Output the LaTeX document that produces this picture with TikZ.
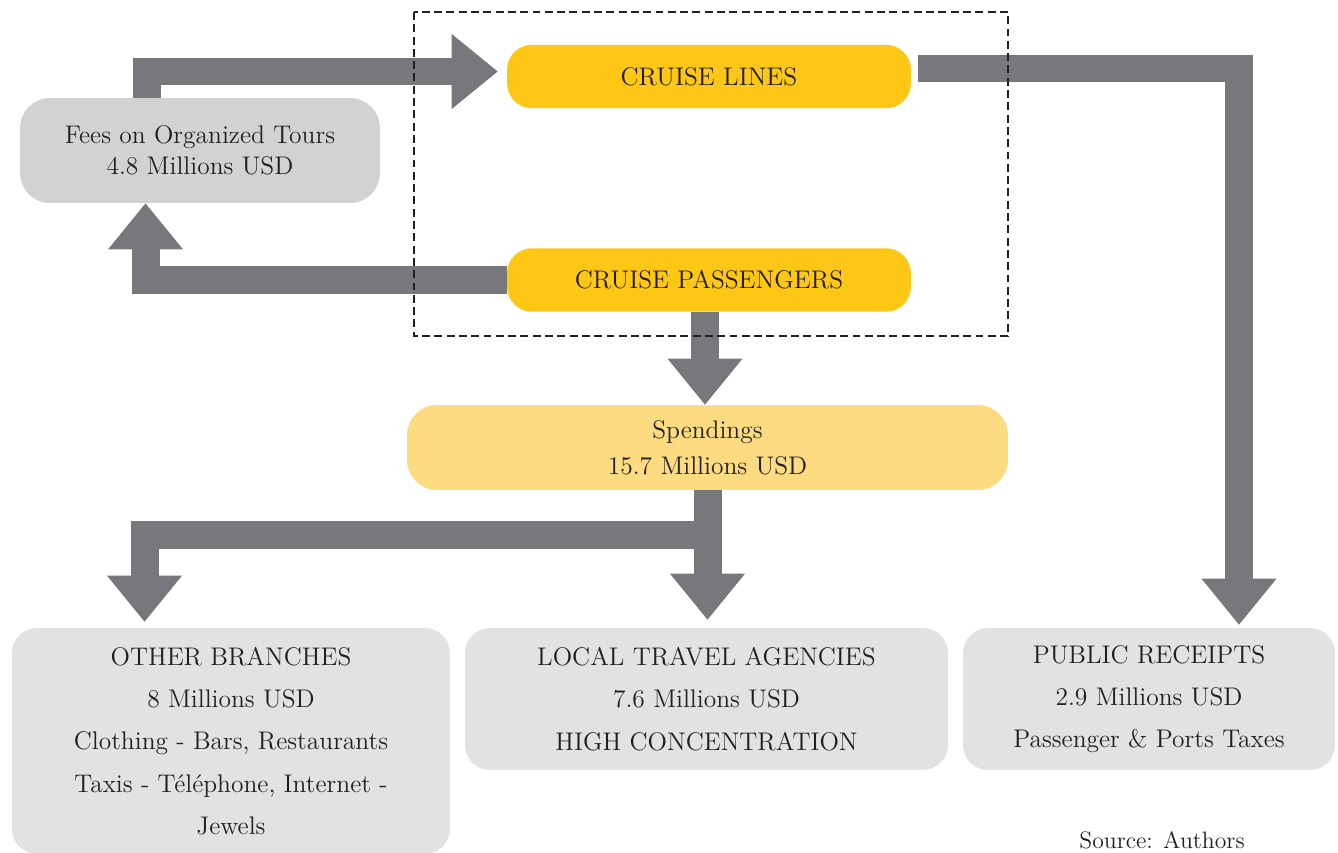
\documentclass[tikz,border=0pt]{standalone}
\usepackage{tikz}
\usetikzlibrary{positioning, calc, arrows.meta}
\definecolor{flowgray}{HTML}{77787B}
\definecolor{cruiseyellow}{HTML}{FEC715}
\definecolor{spendyellow}{HTML}{FDDB80}
\definecolor{feesgray}{HTML}{D1D2D4}
\definecolor{boxgray}{HTML}{E1E2E3}
\definecolor{inkdark}{HTML}{231F20}

\begin{document}
\begin{tikzpicture}[x=0.02cm, y=-0.02cm,
    box/.style={rounded corners=0.5cm, inner sep=0pt, align=center, text=inkdark,
        font=\fontsize{14.5}{17.5}\selectfont},
    cruisebox/.style={box, fill=cruiseyellow, minimum width=8.08cm, minimum height=1.27cm},
    spendbox/.style={box, fill=spendyellow, rounded corners=0.6cm,
        font=\fontsize{14.5}{20.5}\selectfont},
    feesbox/.style={box, fill=feesgray, rounded corners=0.6cm},
    sharebox/.style={box, fill=boxgray, font=\fontsize{14.5}{24}\selectfont},
    flow/.style={draw=flowgray, line width=0.56cm, line join=miter,
        -{Triangle[width=1.5cm, length=0.92cm, line width=0pt]}},
    dashbox/.style={draw=inkdark, line width=1.1pt, dash pattern=on 4.5pt off 2.5pt}]

        \useasboundingbox (0,0) rectangle (1338,852);

        % ==========================================
        % TOP: Cruise lines, passengers and tour fees
        % ==========================================
        \node[cruisebox] (lines) at (709,76.5) {CRUISE LINES};
        \node[cruisebox] (pass) at (709,280) {CRUISE PASSENGERS};
        \node[feesbox, minimum width=7.2cm, minimum height=2.1cm] (fees) at (200,150.5)
            {Fees on Organized Tours\\4.8 Millions USD};

        % ==========================================
        % MIDDLE: Spendings
        % ==========================================
        \node[spendbox, minimum width=12.02cm, minimum height=1.7cm] (spend) at (707.5,447.5)
            {Spendings\\15.7 Millions USD};

        % ==========================================
        % BOTTOM: Where the money goes
        % ==========================================
        \node[sharebox, minimum width=8.76cm, minimum height=4.52cm] (other) at (231,741)
            {OTHER BRANCHES\\8 Millions USD\\Clothing - Bars, Restaurants\\Taxis - Téléphone, Internet -\\Jewels};
        \node[sharebox, minimum width=9.66cm, minimum height=2.84cm] (local) at (706.5,699)
            {LOCAL TRAVEL AGENCIES\\7.6 Millions USD\\HIGH CONCENTRATION};
        \node[sharebox, minimum width=7.44cm, minimum height=2.84cm] (public) at (1149,699)
            {PUBLIC RECEIPTS\\2.9 Millions USD\\Passenger \& Ports Taxes};

        \node[text=inkdark, inner sep=0pt, font=\fontsize{13.5}{15}\selectfont] (source) at (1162,840) {Source: Authors};

        % ==========================================
        % Flows
        % ==========================================
        \draw[flow, shorten >=0.18cm] ([xshift=-1.06cm]fees.north) |- ([yshift=0.1cm]lines.west);
        \draw[flow] (pass.west) -| ([xshift=-1.09cm]fees.south);
        \draw[flow, shorten >=0.06cm] ([shift={(7,-8)}]lines.east) -| ([xshift=1.8cm]public.north);
        \draw[flow] ([xshift=-0.08cm]pass.south) -- ([xshift=-0.08cm]pass.south |- spend.north);
        \draw[flow, shorten >=0.12cm] (spend.south) -- ++(0,45) -| ([xshift=-1.73cm]other.north);
        \draw[flow, shorten >=0.16cm] (spend.south) -- (spend.south |- local.north);

        % dashed frame round the cruise pair
        \draw[dashbox] (414,12) rectangle (1008,336);

\end{tikzpicture}
\end{document}
